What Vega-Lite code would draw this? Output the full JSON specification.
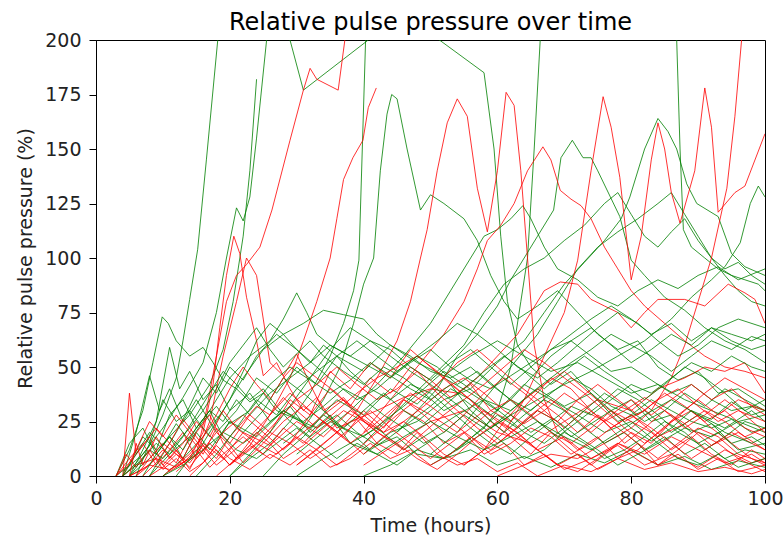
{
"$schema":"https://vega.github.io/schema/vega-lite/v6.json",
"autosize":"none",
"width":669,"height":436,
"padding":{"left":96,"top":40,"right":18,"bottom":66},
"background":"white",
"config":{"font":"DejaVu Sans","view":{"stroke":"black","strokeWidth":1}},
"title":{"text":"Relative pulse pressure over time","fontSize":24,"fontWeight":"normal","font":"DejaVu Sans","color":"black","offset":-4,"anchor":"middle"},
"datasets":{"d":[
{"s":"g1","c":"g","t":4,"v":0},{"s":"g1","c":"g","t":6,"v":6},{"s":"g1","c":"g","t":8,"v":14},{"s":"g1","c":"g","t":10,"v":28},{"s":"g1","c":"g","t":12,"v":45},{"s":"g1","c":"g","t":13,"v":62},{"s":"g1","c":"g","t":14,"v":81},{"s":"g1","c":"g","t":15.2,"v":104},{"s":"g1","c":"g","t":16.5,"v":145},{"s":"g1","c":"g","t":18.2,"v":200},{"s":"g1","c":"g","t":19,"v":225},
{"s":"g2","c":"g","t":3,"v":0},{"s":"g2","c":"g","t":5,"v":12},{"s":"g2","c":"g","t":7,"v":30},{"s":"g2","c":"g","t":8.5,"v":52},{"s":"g2","c":"g","t":9.9,"v":73},{"s":"g2","c":"g","t":10.8,"v":70},{"s":"g2","c":"g","t":12,"v":62},{"s":"g2","c":"g","t":14,"v":55},{"s":"g2","c":"g","t":16,"v":59},{"s":"g2","c":"g","t":17.5,"v":52},{"s":"g2","c":"g","t":19,"v":44},{"s":"g2","c":"g","t":21,"v":40},{"s":"g2","c":"g","t":23,"v":34},{"s":"g2","c":"g","t":25,"v":38},{"s":"g2","c":"g","t":27,"v":30},{"s":"g2","c":"g","t":30,"v":26},{"s":"g2","c":"g","t":33,"v":22},{"s":"g2","c":"g","t":36,"v":28},{"s":"g2","c":"g","t":39,"v":20},{"s":"g2","c":"g","t":42,"v":14},{"s":"g2","c":"g","t":45,"v":18},{"s":"g2","c":"g","t":48,"v":10},{"s":"g2","c":"g","t":52,"v":8},{"s":"g2","c":"g","t":56,"v":12},{"s":"g2","c":"g","t":60,"v":5},{"s":"g2","c":"g","t":64,"v":9},{"s":"g2","c":"g","t":68,"v":4},{"s":"g2","c":"g","t":72,"v":10},{"s":"g2","c":"g","t":76,"v":6},{"s":"g2","c":"g","t":80,"v":12},{"s":"g2","c":"g","t":84,"v":5},{"s":"g2","c":"g","t":88,"v":9},{"s":"g2","c":"g","t":92,"v":3},{"s":"g2","c":"g","t":96,"v":7},{"s":"g2","c":"g","t":100,"v":4},
{"s":"g3","c":"g","t":5,"v":0},{"s":"g3","c":"g","t":8,"v":8},{"s":"g3","c":"g","t":11,"v":18},{"s":"g3","c":"g","t":14,"v":28},{"s":"g3","c":"g","t":17,"v":42},{"s":"g3","c":"g","t":19,"v":58},{"s":"g3","c":"g","t":20.5,"v":80},{"s":"g3","c":"g","t":22,"v":110},{"s":"g3","c":"g","t":23,"v":140},{"s":"g3","c":"g","t":24,"v":182},
{"s":"g4","c":"g","t":4,"v":2},{"s":"g4","c":"g","t":7,"v":10},{"s":"g4","c":"g","t":10,"v":22},{"s":"g4","c":"g","t":13,"v":36},{"s":"g4","c":"g","t":16,"v":52},{"s":"g4","c":"g","t":18,"v":75},{"s":"g4","c":"g","t":19.5,"v":100},{"s":"g4","c":"g","t":21,"v":123},{"s":"g4","c":"g","t":22,"v":117},{"s":"g4","c":"g","t":23,"v":128},{"s":"g4","c":"g","t":24,"v":155},{"s":"g4","c":"g","t":25.5,"v":200},{"s":"g4","c":"g","t":27,"v":225},{"s":"g4","c":"g","t":29,"v":200},{"s":"g4","c":"g","t":31,"v":177},{"s":"g4","c":"g","t":40.7,"v":200},{"s":"g4","c":"g","t":42,"v":212},
{"s":"g5","c":"g","t":20,"v":0},{"s":"g5","c":"g","t":23,"v":8},{"s":"g5","c":"g","t":26,"v":15},{"s":"g5","c":"g","t":29,"v":25},{"s":"g5","c":"g","t":32,"v":38},{"s":"g5","c":"g","t":35,"v":55},{"s":"g5","c":"g","t":37,"v":70},{"s":"g5","c":"g","t":38.5,"v":85},{"s":"g5","c":"g","t":39.3,"v":99},{"s":"g5","c":"g","t":40.3,"v":200},{"s":"g5","c":"g","t":42,"v":230},{"s":"g5","c":"g","t":45,"v":212},{"s":"g5","c":"g","t":50,"v":203},{"s":"g5","c":"g","t":58,"v":185},{"s":"g5","c":"g","t":59.5,"v":150},{"s":"g5","c":"g","t":60.5,"v":110},{"s":"g5","c":"g","t":61.5,"v":80},{"s":"g5","c":"g","t":63,"v":60},{"s":"g5","c":"g","t":65,"v":50},{"s":"g5","c":"g","t":68,"v":42},{"s":"g5","c":"g","t":71,"v":48},{"s":"g5","c":"g","t":74,"v":38},{"s":"g5","c":"g","t":77,"v":30},{"s":"g5","c":"g","t":80,"v":35},{"s":"g5","c":"g","t":83,"v":25},{"s":"g5","c":"g","t":86,"v":28},{"s":"g5","c":"g","t":89,"v":20},{"s":"g5","c":"g","t":92,"v":24},{"s":"g5","c":"g","t":95,"v":15},{"s":"g5","c":"g","t":98,"v":18},{"s":"g5","c":"g","t":100,"v":14},
{"s":"g7","c":"g","t":40,"v":0},{"s":"g7","c":"g","t":44,"v":5},{"s":"g7","c":"g","t":48,"v":12},{"s":"g7","c":"g","t":52,"v":8},{"s":"g7","c":"g","t":55,"v":15},{"s":"g7","c":"g","t":58,"v":22},{"s":"g7","c":"g","t":60,"v":30},{"s":"g7","c":"g","t":62,"v":50},{"s":"g7","c":"g","t":63.5,"v":80},{"s":"g7","c":"g","t":64.5,"v":100},{"s":"g7","c":"g","t":65.5,"v":150},{"s":"g7","c":"g","t":66.4,"v":200},{"s":"g7","c":"g","t":70,"v":250},{"s":"g7","c":"g","t":80,"v":250},{"s":"g7","c":"g","t":86.8,"v":200},{"s":"g7","c":"g","t":87.3,"v":150},{"s":"g7","c":"g","t":87.8,"v":113},{"s":"g7","c":"g","t":89,"v":105},{"s":"g7","c":"g","t":91,"v":100},{"s":"g7","c":"g","t":93,"v":95},{"s":"g7","c":"g","t":95,"v":92},{"s":"g7","c":"g","t":97,"v":90},{"s":"g7","c":"g","t":99,"v":88},{"s":"g7","c":"g","t":100,"v":85},
{"s":"g8","c":"g","t":28,"v":15},{"s":"g8","c":"g","t":31,"v":22},{"s":"g8","c":"g","t":34,"v":35},{"s":"g8","c":"g","t":36.5,"v":50},{"s":"g8","c":"g","t":38.5,"v":70},{"s":"g8","c":"g","t":40,"v":88},{"s":"g8","c":"g","t":41.5,"v":100},{"s":"g8","c":"g","t":42.5,"v":140},{"s":"g8","c":"g","t":43.5,"v":166},{"s":"g8","c":"g","t":44.2,"v":175},{"s":"g8","c":"g","t":45,"v":173},{"s":"g8","c":"g","t":46.5,"v":150},{"s":"g8","c":"g","t":48.5,"v":122},{"s":"g8","c":"g","t":50,"v":129},{"s":"g8","c":"g","t":52,"v":125},{"s":"g8","c":"g","t":55,"v":118},{"s":"g8","c":"g","t":57,"v":108},{"s":"g8","c":"g","t":59,"v":92},{"s":"g8","c":"g","t":61,"v":80},{"s":"g8","c":"g","t":63,"v":72},{"s":"g8","c":"g","t":66,"v":78},{"s":"g8","c":"g","t":69,"v":85},{"s":"g8","c":"g","t":72,"v":75},{"s":"g8","c":"g","t":75,"v":65},{"s":"g8","c":"g","t":78,"v":58},{"s":"g8","c":"g","t":81,"v":62},{"s":"g8","c":"g","t":84,"v":50},{"s":"g8","c":"g","t":87,"v":44},{"s":"g8","c":"g","t":90,"v":48},{"s":"g8","c":"g","t":93,"v":38},{"s":"g8","c":"g","t":96,"v":40},{"s":"g8","c":"g","t":100,"v":32},
{"s":"g9","c":"g","t":45,"v":20},{"s":"g9","c":"g","t":48,"v":30},{"s":"g9","c":"g","t":51,"v":40},{"s":"g9","c":"g","t":54,"v":55},{"s":"g9","c":"g","t":57,"v":65},{"s":"g9","c":"g","t":60,"v":78},{"s":"g9","c":"g","t":62,"v":90},{"s":"g9","c":"g","t":64,"v":100},{"s":"g9","c":"g","t":66,"v":110},{"s":"g9","c":"g","t":68.4,"v":122},{"s":"g9","c":"g","t":69.5,"v":146},{"s":"g9","c":"g","t":71.2,"v":154},{"s":"g9","c":"g","t":72.8,"v":146},{"s":"g9","c":"g","t":74,"v":146},{"s":"g9","c":"g","t":75,"v":140},{"s":"g9","c":"g","t":78.3,"v":119},{"s":"g9","c":"g","t":80,"v":99},{"s":"g9","c":"g","t":82,"v":92},{"s":"g9","c":"g","t":85,"v":82},{"s":"g9","c":"g","t":88,"v":76},{"s":"g9","c":"g","t":91,"v":68},{"s":"g9","c":"g","t":94,"v":62},{"s":"g9","c":"g","t":97,"v":58},{"s":"g9","c":"g","t":100,"v":52},
{"s":"g10","c":"g","t":40,"v":10},{"s":"g10","c":"g","t":44,"v":20},{"s":"g10","c":"g","t":48,"v":25},{"s":"g10","c":"g","t":52,"v":35},{"s":"g10","c":"g","t":56,"v":40},{"s":"g10","c":"g","t":60,"v":52},{"s":"g10","c":"g","t":64,"v":62},{"s":"g10","c":"g","t":67,"v":75},{"s":"g10","c":"g","t":70,"v":88},{"s":"g10","c":"g","t":73,"v":98},{"s":"g10","c":"g","t":76,"v":108},{"s":"g10","c":"g","t":78.5,"v":118},{"s":"g10","c":"g","t":79.8,"v":128},{"s":"g10","c":"g","t":82,"v":150},{"s":"g10","c":"g","t":84,"v":164},{"s":"g10","c":"g","t":85.5,"v":158},{"s":"g10","c":"g","t":86.8,"v":150},{"s":"g10","c":"g","t":88.3,"v":134},{"s":"g10","c":"g","t":89.8,"v":125},{"s":"g10","c":"g","t":93,"v":119},{"s":"g10","c":"g","t":95,"v":102},{"s":"g10","c":"g","t":97,"v":96},{"s":"g10","c":"g","t":100,"v":92},
{"s":"g11","c":"g","t":50,"v":5},{"s":"g11","c":"g","t":54,"v":12},{"s":"g11","c":"g","t":58,"v":20},{"s":"g11","c":"g","t":62,"v":28},{"s":"g11","c":"g","t":66,"v":35},{"s":"g11","c":"g","t":70,"v":42},{"s":"g11","c":"g","t":74,"v":48},{"s":"g11","c":"g","t":78,"v":55},{"s":"g11","c":"g","t":82,"v":62},{"s":"g11","c":"g","t":86,"v":72},{"s":"g11","c":"g","t":89,"v":82},{"s":"g11","c":"g","t":92,"v":90},{"s":"g11","c":"g","t":94,"v":96},{"s":"g11","c":"g","t":96.3,"v":107},{"s":"g11","c":"g","t":97.8,"v":125},{"s":"g11","c":"g","t":99,"v":133},{"s":"g11","c":"g","t":100,"v":128},
{"s":"g12","c":"g","t":30,"v":10},{"s":"g12","c":"g","t":34,"v":20},{"s":"g12","c":"g","t":38,"v":30},{"s":"g12","c":"g","t":42,"v":42},{"s":"g12","c":"g","t":46,"v":55},{"s":"g12","c":"g","t":50,"v":70},{"s":"g12","c":"g","t":53,"v":85},{"s":"g12","c":"g","t":56,"v":100},{"s":"g12","c":"g","t":58,"v":110},{"s":"g12","c":"g","t":60,"v":113},{"s":"g12","c":"g","t":62,"v":118},{"s":"g12","c":"g","t":63.8,"v":124},{"s":"g12","c":"g","t":65,"v":118},{"s":"g12","c":"g","t":67,"v":105},{"s":"g12","c":"g","t":69,"v":95},{"s":"g12","c":"g","t":72,"v":90},{"s":"g12","c":"g","t":75,"v":82},{"s":"g12","c":"g","t":78,"v":78},{"s":"g12","c":"g","t":81,"v":85},{"s":"g12","c":"g","t":84,"v":90},{"s":"g12","c":"g","t":87,"v":86},{"s":"g12","c":"g","t":90,"v":92},{"s":"g12","c":"g","t":93,"v":96},{"s":"g12","c":"g","t":96,"v":90},{"s":"g12","c":"g","t":100,"v":95},
{"s":"g13","c":"g","t":8,"v":0},{"s":"g13","c":"g","t":11,"v":10},{"s":"g13","c":"g","t":14,"v":18},{"s":"g13","c":"g","t":17,"v":30},{"s":"g13","c":"g","t":20,"v":45},{"s":"g13","c":"g","t":23,"v":55},{"s":"g13","c":"g","t":26,"v":62},{"s":"g13","c":"g","t":28,"v":72},{"s":"g13","c":"g","t":30,"v":84},{"s":"g13","c":"g","t":31.5,"v":75},{"s":"g13","c":"g","t":33,"v":65},{"s":"g13","c":"g","t":35,"v":60},{"s":"g13","c":"g","t":38,"v":55},{"s":"g13","c":"g","t":41,"v":50},{"s":"g13","c":"g","t":44,"v":45},{"s":"g13","c":"g","t":47,"v":52},{"s":"g13","c":"g","t":50,"v":58},{"s":"g13","c":"g","t":53,"v":50},{"s":"g13","c":"g","t":56,"v":44},{"s":"g13","c":"g","t":59,"v":40},{"s":"g13","c":"g","t":62,"v":46},{"s":"g13","c":"g","t":65,"v":52},{"s":"g13","c":"g","t":68,"v":58},{"s":"g13","c":"g","t":71,"v":62},{"s":"g13","c":"g","t":74,"v":55},{"s":"g13","c":"g","t":77,"v":48},{"s":"g13","c":"g","t":80,"v":50},{"s":"g13","c":"g","t":83,"v":44},{"s":"g13","c":"g","t":86,"v":38},{"s":"g13","c":"g","t":89,"v":42},{"s":"g13","c":"g","t":92,"v":35},{"s":"g13","c":"g","t":95,"v":30},{"s":"g13","c":"g","t":98,"v":32},{"s":"g13","c":"g","t":100,"v":30},
{"s":"g14","c":"g","t":10,"v":0},{"s":"g14","c":"g","t":13,"v":8},{"s":"g14","c":"g","t":16,"v":18},{"s":"g14","c":"g","t":19,"v":30},{"s":"g14","c":"g","t":22,"v":45},{"s":"g14","c":"g","t":25,"v":58},{"s":"g14","c":"g","t":28,"v":65},{"s":"g14","c":"g","t":31,"v":70},{"s":"g14","c":"g","t":34,"v":76},{"s":"g14","c":"g","t":37,"v":74},{"s":"g14","c":"g","t":40,"v":72},{"s":"g14","c":"g","t":42,"v":65},{"s":"g14","c":"g","t":44,"v":60},{"s":"g14","c":"g","t":47,"v":55},{"s":"g14","c":"g","t":50,"v":48},{"s":"g14","c":"g","t":53,"v":45},{"s":"g14","c":"g","t":56,"v":50},{"s":"g14","c":"g","t":59,"v":42},{"s":"g14","c":"g","t":62,"v":35},{"s":"g14","c":"g","t":65,"v":30},{"s":"g14","c":"g","t":68,"v":38},{"s":"g14","c":"g","t":71,"v":45},{"s":"g14","c":"g","t":74,"v":40},{"s":"g14","c":"g","t":77,"v":32},{"s":"g14","c":"g","t":80,"v":28},{"s":"g14","c":"g","t":83,"v":35},{"s":"g14","c":"g","t":86,"v":30},{"s":"g14","c":"g","t":89,"v":25},{"s":"g14","c":"g","t":92,"v":22},{"s":"g14","c":"g","t":95,"v":26},{"s":"g14","c":"g","t":98,"v":20},{"s":"g14","c":"g","t":100,"v":22},
{"s":"g15","c":"g","t":40,"v":15},{"s":"g15","c":"g","t":45,"v":30},{"s":"g15","c":"g","t":50,"v":45},{"s":"g15","c":"g","t":55,"v":60},{"s":"g15","c":"g","t":58,"v":75},{"s":"g15","c":"g","t":61,"v":88},{"s":"g15","c":"g","t":64,"v":95},{"s":"g15","c":"g","t":67,"v":100},{"s":"g15","c":"g","t":70,"v":108},{"s":"g15","c":"g","t":73,"v":115},{"s":"g15","c":"g","t":76,"v":125},{"s":"g15","c":"g","t":78,"v":130},{"s":"g15","c":"g","t":80,"v":120},{"s":"g15","c":"g","t":82,"v":110},{"s":"g15","c":"g","t":84,"v":105},{"s":"g15","c":"g","t":86,"v":112},{"s":"g15","c":"g","t":88,"v":118},{"s":"g15","c":"g","t":90,"v":108},{"s":"g15","c":"g","t":92,"v":100},{"s":"g15","c":"g","t":94,"v":95},{"s":"g15","c":"g","t":96,"v":98},{"s":"g15","c":"g","t":98,"v":92},{"s":"g15","c":"g","t":100,"v":88},
{"s":"g16","c":"g","t":50,"v":10},{"s":"g16","c":"g","t":54,"v":20},{"s":"g16","c":"g","t":58,"v":35},{"s":"g16","c":"g","t":62,"v":50},{"s":"g16","c":"g","t":66,"v":65},{"s":"g16","c":"g","t":69,"v":80},{"s":"g16","c":"g","t":72,"v":95},{"s":"g16","c":"g","t":75,"v":105},{"s":"g16","c":"g","t":78,"v":112},{"s":"g16","c":"g","t":81,"v":118},{"s":"g16","c":"g","t":84,"v":125},{"s":"g16","c":"g","t":86,"v":130},{"s":"g16","c":"g","t":88,"v":120},{"s":"g16","c":"g","t":90,"v":110},{"s":"g16","c":"g","t":92,"v":100},{"s":"g16","c":"g","t":94,"v":92},{"s":"g16","c":"g","t":96,"v":85},{"s":"g16","c":"g","t":98,"v":80},{"s":"g16","c":"g","t":100,"v":78},
{"s":"r1","c":"r","t":4,"v":0},{"s":"r1","c":"r","t":6,"v":5},{"s":"r1","c":"r","t":9,"v":8},{"s":"r1","c":"r","t":12,"v":4},{"s":"r1","c":"r","t":15,"v":10},{"s":"r1","c":"r","t":16.5,"v":30},{"s":"r1","c":"r","t":18,"v":55},{"s":"r1","c":"r","t":19.5,"v":80},{"s":"r1","c":"r","t":21,"v":92},{"s":"r1","c":"r","t":22.5,"v":97},{"s":"r1","c":"r","t":24.5,"v":105},{"s":"r1","c":"r","t":26.3,"v":122},{"s":"r1","c":"r","t":29,"v":154},{"s":"r1","c":"r","t":31,"v":177},{"s":"r1","c":"r","t":32,"v":187},{"s":"r1","c":"r","t":33,"v":182},{"s":"r1","c":"r","t":36.2,"v":177},{"s":"r1","c":"r","t":37.2,"v":200},{"s":"r1","c":"r","t":38,"v":220},
{"s":"r2","c":"r","t":20,"v":5},{"s":"r2","c":"r","t":23,"v":14},{"s":"r2","c":"r","t":26,"v":28},{"s":"r2","c":"r","t":29,"v":45},{"s":"r2","c":"r","t":31,"v":62},{"s":"r2","c":"r","t":33,"v":80},{"s":"r2","c":"r","t":35,"v":100},{"s":"r2","c":"r","t":36,"v":118},{"s":"r2","c":"r","t":37,"v":136},{"s":"r2","c":"r","t":38.4,"v":146},{"s":"r2","c":"r","t":39.9,"v":154},{"s":"r2","c":"r","t":40.7,"v":169},{"s":"r2","c":"r","t":41.9,"v":178},
{"s":"r3","c":"r","t":5,"v":0},{"s":"r3","c":"r","t":8,"v":5},{"s":"r3","c":"r","t":11,"v":3},{"s":"r3","c":"r","t":14,"v":8},{"s":"r3","c":"r","t":16,"v":20},{"s":"r3","c":"r","t":17.5,"v":42},{"s":"r3","c":"r","t":18.5,"v":68},{"s":"r3","c":"r","t":19.5,"v":92},{"s":"r3","c":"r","t":20.6,"v":110},{"s":"r3","c":"r","t":21.5,"v":102},{"s":"r3","c":"r","t":22.5,"v":82},{"s":"r3","c":"r","t":24,"v":62},{"s":"r3","c":"r","t":25,"v":46},{"s":"r3","c":"r","t":27,"v":52},{"s":"r3","c":"r","t":29,"v":40},{"s":"r3","c":"r","t":31,"v":30},{"s":"r3","c":"r","t":33,"v":36},{"s":"r3","c":"r","t":36,"v":22},{"s":"r3","c":"r","t":39,"v":26},{"s":"r3","c":"r","t":42,"v":15},{"s":"r3","c":"r","t":45,"v":10},{"s":"r3","c":"r","t":48,"v":20},{"s":"r3","c":"r","t":51,"v":10},{"s":"r3","c":"r","t":54,"v":5},{"s":"r3","c":"r","t":57,"v":8},{"s":"r3","c":"r","t":60,"v":2},{"s":"r3","c":"r","t":63,"v":6},{"s":"r3","c":"r","t":66,"v":0},{"s":"r3","c":"r","t":70,"v":5},{"s":"r3","c":"r","t":74,"v":2},{"s":"r3","c":"r","t":78,"v":8},{"s":"r3","c":"r","t":82,"v":3},{"s":"r3","c":"r","t":86,"v":6},{"s":"r3","c":"r","t":90,"v":2},{"s":"r3","c":"r","t":94,"v":4},{"s":"r3","c":"r","t":98,"v":1},{"s":"r3","c":"r","t":100,"v":3},
{"s":"r4","c":"r","t":12,"v":2},{"s":"r4","c":"r","t":15,"v":10},{"s":"r4","c":"r","t":17,"v":25},{"s":"r4","c":"r","t":19,"v":55},{"s":"r4","c":"r","t":21,"v":80},{"s":"r4","c":"r","t":22.5,"v":100},{"s":"r4","c":"r","t":24,"v":92},{"s":"r4","c":"r","t":25,"v":72},{"s":"r4","c":"r","t":26,"v":52},{"s":"r4","c":"r","t":28,"v":46},{"s":"r4","c":"r","t":30,"v":56},{"s":"r4","c":"r","t":32,"v":42},{"s":"r4","c":"r","t":34,"v":30},{"s":"r4","c":"r","t":37,"v":36},{"s":"r4","c":"r","t":40,"v":25},{"s":"r4","c":"r","t":43,"v":20},{"s":"r4","c":"r","t":46,"v":30},{"s":"r4","c":"r","t":49,"v":25},{"s":"r4","c":"r","t":52,"v":15},{"s":"r4","c":"r","t":55,"v":20},{"s":"r4","c":"r","t":58,"v":10},{"s":"r4","c":"r","t":61,"v":15},{"s":"r4","c":"r","t":64,"v":5},{"s":"r4","c":"r","t":67,"v":10},{"s":"r4","c":"r","t":70,"v":3},{"s":"r4","c":"r","t":74,"v":8},{"s":"r4","c":"r","t":78,"v":15},{"s":"r4","c":"r","t":82,"v":10},{"s":"r4","c":"r","t":86,"v":18},{"s":"r4","c":"r","t":90,"v":12},{"s":"r4","c":"r","t":94,"v":6},{"s":"r4","c":"r","t":98,"v":10},{"s":"r4","c":"r","t":100,"v":6},
{"s":"r5","c":"r","t":30,"v":5},{"s":"r5","c":"r","t":33,"v":12},{"s":"r5","c":"r","t":36,"v":20},{"s":"r5","c":"r","t":39,"v":30},{"s":"r5","c":"r","t":42,"v":45},{"s":"r5","c":"r","t":45,"v":62},{"s":"r5","c":"r","t":47,"v":80},{"s":"r5","c":"r","t":48.5,"v":100},{"s":"r5","c":"r","t":49.5,"v":113},{"s":"r5","c":"r","t":51,"v":140},{"s":"r5","c":"r","t":52.5,"v":162},{"s":"r5","c":"r","t":54,"v":173},{"s":"r5","c":"r","t":55.5,"v":165},{"s":"r5","c":"r","t":57,"v":132},{"s":"r5","c":"r","t":58.5,"v":112},{"s":"r5","c":"r","t":60,"v":140},{"s":"r5","c":"r","t":61.3,"v":176},{"s":"r5","c":"r","t":62.5,"v":170},{"s":"r5","c":"r","t":63.5,"v":140},{"s":"r5","c":"r","t":64.5,"v":100},{"s":"r5","c":"r","t":65.5,"v":60},{"s":"r5","c":"r","t":67,"v":35},{"s":"r5","c":"r","t":69,"v":20},{"s":"r5","c":"r","t":72,"v":12},{"s":"r5","c":"r","t":75,"v":18},{"s":"r5","c":"r","t":78,"v":8},{"s":"r5","c":"r","t":81,"v":15},{"s":"r5","c":"r","t":84,"v":5},{"s":"r5","c":"r","t":87,"v":10},{"s":"r5","c":"r","t":90,"v":3},{"s":"r5","c":"r","t":93,"v":8},{"s":"r5","c":"r","t":96,"v":2},{"s":"r5","c":"r","t":100,"v":5},
{"s":"r6","c":"r","t":55,"v":5},{"s":"r6","c":"r","t":58,"v":12},{"s":"r6","c":"r","t":61,"v":20},{"s":"r6","c":"r","t":64,"v":35},{"s":"r6","c":"r","t":67,"v":55},{"s":"r6","c":"r","t":70,"v":75},{"s":"r6","c":"r","t":72,"v":99},{"s":"r6","c":"r","t":74,"v":140},{"s":"r6","c":"r","t":75.8,"v":174},{"s":"r6","c":"r","t":77,"v":160},{"s":"r6","c":"r","t":78.3,"v":137},{"s":"r6","c":"r","t":80,"v":90},{"s":"r6","c":"r","t":81.5,"v":110},{"s":"r6","c":"r","t":83,"v":145},{"s":"r6","c":"r","t":84,"v":162},{"s":"r6","c":"r","t":85,"v":150},{"s":"r6","c":"r","t":86,"v":130},{"s":"r6","c":"r","t":87.3,"v":116},{"s":"r6","c":"r","t":89.5,"v":140},{"s":"r6","c":"r","t":91,"v":178},{"s":"r6","c":"r","t":92,"v":160},{"s":"r6","c":"r","t":93,"v":121},{"s":"r6","c":"r","t":95.5,"v":130},{"s":"r6","c":"r","t":97,"v":133},{"s":"r6","c":"r","t":100,"v":157},
{"s":"r7","c":"r","t":60,"v":0},{"s":"r7","c":"r","t":64,"v":5},{"s":"r7","c":"r","t":68,"v":10},{"s":"r7","c":"r","t":72,"v":8},{"s":"r7","c":"r","t":76,"v":15},{"s":"r7","c":"r","t":80,"v":22},{"s":"r7","c":"r","t":83,"v":30},{"s":"r7","c":"r","t":86,"v":45},{"s":"r7","c":"r","t":88,"v":60},{"s":"r7","c":"r","t":90,"v":80},{"s":"r7","c":"r","t":92,"v":100},{"s":"r7","c":"r","t":94.3,"v":132},{"s":"r7","c":"r","t":95.5,"v":165},{"s":"r7","c":"r","t":96.5,"v":200},{"s":"r7","c":"r","t":97.5,"v":230},
{"s":"r8","c":"r","t":30,"v":5},{"s":"r8","c":"r","t":34,"v":15},{"s":"r8","c":"r","t":38,"v":25},{"s":"r8","c":"r","t":42,"v":30},{"s":"r8","c":"r","t":46,"v":36},{"s":"r8","c":"r","t":50,"v":40},{"s":"r8","c":"r","t":54,"v":38},{"s":"r8","c":"r","t":57,"v":45},{"s":"r8","c":"r","t":60,"v":55},{"s":"r8","c":"r","t":63,"v":65},{"s":"r8","c":"r","t":65,"v":75},{"s":"r8","c":"r","t":67,"v":85},{"s":"r8","c":"r","t":69.4,"v":89},{"s":"r8","c":"r","t":72,"v":88},{"s":"r8","c":"r","t":74,"v":81},{"s":"r8","c":"r","t":76,"v":78},{"s":"r8","c":"r","t":78,"v":75},{"s":"r8","c":"r","t":80,"v":68},{"s":"r8","c":"r","t":82,"v":75},{"s":"r8","c":"r","t":84,"v":81},{"s":"r8","c":"r","t":88,"v":81},{"s":"r8","c":"r","t":91,"v":78},{"s":"r8","c":"r","t":94.5,"v":88},{"s":"r8","c":"r","t":97,"v":84},{"s":"r8","c":"r","t":98.5,"v":81},{"s":"r8","c":"r","t":100,"v":70},
{"s":"r9","c":"r","t":40,"v":20},{"s":"r9","c":"r","t":44,"v":35},{"s":"r9","c":"r","t":48,"v":50},{"s":"r9","c":"r","t":52,"v":65},{"s":"r9","c":"r","t":55,"v":80},{"s":"r9","c":"r","t":57,"v":95},{"s":"r9","c":"r","t":58.5,"v":108},{"s":"r9","c":"r","t":60.5,"v":115},{"s":"r9","c":"r","t":62.5,"v":125},{"s":"r9","c":"r","t":64.5,"v":140},{"s":"r9","c":"r","t":66.8,"v":151},{"s":"r9","c":"r","t":68,"v":145},{"s":"r9","c":"r","t":69.4,"v":131},{"s":"r9","c":"r","t":71,"v":127},{"s":"r9","c":"r","t":72.5,"v":124},{"s":"r9","c":"r","t":74,"v":118},{"s":"r9","c":"r","t":76,"v":105},{"s":"r9","c":"r","t":78,"v":95},{"s":"r9","c":"r","t":80,"v":85},{"s":"r9","c":"r","t":82,"v":78},{"s":"r9","c":"r","t":85,"v":70},{"s":"r9","c":"r","t":88,"v":62},{"s":"r9","c":"r","t":91,"v":55},{"s":"r9","c":"r","t":94,"v":50},{"s":"r9","c":"r","t":97,"v":48},{"s":"r9","c":"r","t":100,"v":45},
{"s":"r10","c":"r","t":40,"v":5},{"s":"r10","c":"r","t":45,"v":15},{"s":"r10","c":"r","t":50,"v":25},{"s":"r10","c":"r","t":55,"v":30},{"s":"r10","c":"r","t":60,"v":20},{"s":"r10","c":"r","t":65,"v":15},{"s":"r10","c":"r","t":70,"v":25},{"s":"r10","c":"r","t":75,"v":35},{"s":"r10","c":"r","t":80,"v":30},{"s":"r10","c":"r","t":84,"v":40},{"s":"r10","c":"r","t":88,"v":45},{"s":"r10","c":"r","t":91,"v":50},{"s":"r10","c":"r","t":94,"v":48},{"s":"r10","c":"r","t":97,"v":52},{"s":"r10","c":"r","t":100,"v":38},
{"s":"b1","c":"g","t":3,"v":0},{"s":"b1","c":"g","t":5,"v":15},{"s":"b1","c":"g","t":7,"v":22},{"s":"b1","c":"g","t":9,"v":10},{"s":"b1","c":"g","t":11,"v":18},{"s":"b1","c":"g","t":13,"v":8},{"s":"b1","c":"g","t":15,"v":20},{"s":"b1","c":"g","t":17,"v":12},{"s":"b1","c":"g","t":20,"v":25},{"s":"b1","c":"g","t":24,"v":18},{"s":"b1","c":"g","t":28,"v":30},{"s":"b1","c":"g","t":32,"v":22},{"s":"b1","c":"g","t":36,"v":35},{"s":"b1","c":"g","t":40,"v":28},{"s":"b1","c":"g","t":44,"v":40},{"s":"b1","c":"g","t":48,"v":33},{"s":"b1","c":"g","t":52,"v":45},{"s":"b1","c":"g","t":56,"v":38},{"s":"b1","c":"g","t":60,"v":30},{"s":"b1","c":"g","t":64,"v":42},{"s":"b1","c":"g","t":68,"v":35},{"s":"b1","c":"g","t":72,"v":28},{"s":"b1","c":"g","t":76,"v":20},{"s":"b1","c":"g","t":80,"v":25},{"s":"b1","c":"g","t":84,"v":15},{"s":"b1","c":"g","t":88,"v":22},{"s":"b1","c":"g","t":92,"v":18},{"s":"b1","c":"g","t":96,"v":25},{"s":"b1","c":"g","t":100,"v":20},
{"s":"b2","c":"r","t":4,"v":0},{"s":"b2","c":"r","t":5,"v":38},{"s":"b2","c":"r","t":6,"v":10},{"s":"b2","c":"r","t":8,"v":18},{"s":"b2","c":"r","t":10,"v":5},{"s":"b2","c":"r","t":12,"v":12},{"s":"b2","c":"r","t":14,"v":3},{"s":"b2","c":"r","t":16,"v":15},{"s":"b2","c":"r","t":19,"v":8},{"s":"b2","c":"r","t":22,"v":20},{"s":"b2","c":"r","t":26,"v":14},{"s":"b2","c":"r","t":30,"v":25},{"s":"b2","c":"r","t":34,"v":18},{"s":"b2","c":"r","t":38,"v":30},{"s":"b2","c":"r","t":42,"v":22},{"s":"b2","c":"r","t":46,"v":35},{"s":"b2","c":"r","t":50,"v":28},{"s":"b2","c":"r","t":54,"v":20},{"s":"b2","c":"r","t":58,"v":30},{"s":"b2","c":"r","t":62,"v":22},{"s":"b2","c":"r","t":66,"v":12},{"s":"b2","c":"r","t":70,"v":18},{"s":"b2","c":"r","t":74,"v":8},{"s":"b2","c":"r","t":78,"v":14},{"s":"b2","c":"r","t":82,"v":5},{"s":"b2","c":"r","t":86,"v":10},{"s":"b2","c":"r","t":90,"v":4},{"s":"b2","c":"r","t":94,"v":12},{"s":"b2","c":"r","t":98,"v":6},{"s":"b2","c":"r","t":100,"v":8},
{"s":"b3","c":"g","t":4,"v":0},{"s":"b3","c":"g","t":6,"v":20},{"s":"b3","c":"g","t":8,"v":46},{"s":"b3","c":"g","t":9.5,"v":30},{"s":"b3","c":"g","t":11,"v":40},{"s":"b3","c":"g","t":13,"v":25},{"s":"b3","c":"g","t":15,"v":35},{"s":"b3","c":"g","t":18,"v":20},{"s":"b3","c":"g","t":21,"v":30},{"s":"b3","c":"g","t":24,"v":45},{"s":"b3","c":"g","t":27,"v":38},{"s":"b3","c":"g","t":30,"v":50},{"s":"b3","c":"g","t":33,"v":42},{"s":"b3","c":"g","t":36,"v":55},{"s":"b3","c":"g","t":40,"v":48},{"s":"b3","c":"g","t":44,"v":60},{"s":"b3","c":"g","t":48,"v":52},{"s":"b3","c":"g","t":52,"v":46},{"s":"b3","c":"g","t":56,"v":55},{"s":"b3","c":"g","t":60,"v":62},{"s":"b3","c":"g","t":64,"v":55},{"s":"b3","c":"g","t":68,"v":48},{"s":"b3","c":"g","t":72,"v":52},{"s":"b3","c":"g","t":76,"v":45},{"s":"b3","c":"g","t":80,"v":38},{"s":"b3","c":"g","t":84,"v":42},{"s":"b3","c":"g","t":88,"v":35},{"s":"b3","c":"g","t":92,"v":30},{"s":"b3","c":"g","t":96,"v":25},{"s":"b3","c":"g","t":100,"v":28},
{"s":"b4","c":"r","t":3,"v":0},{"s":"b4","c":"r","t":5,"v":8},{"s":"b4","c":"r","t":7,"v":15},{"s":"b4","c":"r","t":9,"v":5},{"s":"b4","c":"r","t":11,"v":12},{"s":"b4","c":"r","t":13,"v":20},{"s":"b4","c":"r","t":15,"v":8},{"s":"b4","c":"r","t":17,"v":15},{"s":"b4","c":"r","t":20,"v":5},{"s":"b4","c":"r","t":23,"v":12},{"s":"b4","c":"r","t":26,"v":20},{"s":"b4","c":"r","t":29,"v":15},{"s":"b4","c":"r","t":32,"v":28},{"s":"b4","c":"r","t":35,"v":40},{"s":"b4","c":"r","t":38,"v":32},{"s":"b4","c":"r","t":41,"v":45},{"s":"b4","c":"r","t":44,"v":38},{"s":"b4","c":"r","t":47,"v":50},{"s":"b4","c":"r","t":50,"v":44},{"s":"b4","c":"r","t":53,"v":36},{"s":"b4","c":"r","t":56,"v":42},{"s":"b4","c":"r","t":59,"v":30},{"s":"b4","c":"r","t":62,"v":25},{"s":"b4","c":"r","t":65,"v":35},{"s":"b4","c":"r","t":68,"v":45},{"s":"b4","c":"r","t":71,"v":40},{"s":"b4","c":"r","t":74,"v":30},{"s":"b4","c":"r","t":77,"v":22},{"s":"b4","c":"r","t":80,"v":28},{"s":"b4","c":"r","t":84,"v":18},{"s":"b4","c":"r","t":88,"v":24},{"s":"b4","c":"r","t":92,"v":14},{"s":"b4","c":"r","t":96,"v":20},{"s":"b4","c":"r","t":100,"v":12},
{"s":"b5","c":"g","t":5,"v":0},{"s":"b5","c":"g","t":7,"v":12},{"s":"b5","c":"g","t":9,"v":25},{"s":"b5","c":"g","t":11,"v":59},{"s":"b5","c":"g","t":12.5,"v":40},{"s":"b5","c":"g","t":14,"v":48},{"s":"b5","c":"g","t":16,"v":35},{"s":"b5","c":"g","t":18,"v":42},{"s":"b5","c":"g","t":20,"v":30},{"s":"b5","c":"g","t":23,"v":38},{"s":"b5","c":"g","t":26,"v":25},{"s":"b5","c":"g","t":29,"v":32},{"s":"b5","c":"g","t":32,"v":20},{"s":"b5","c":"g","t":35,"v":28},{"s":"b5","c":"g","t":38,"v":15},{"s":"b5","c":"g","t":42,"v":22},{"s":"b5","c":"g","t":46,"v":12},{"s":"b5","c":"g","t":50,"v":20},{"s":"b5","c":"g","t":54,"v":28},{"s":"b5","c":"g","t":58,"v":35},{"s":"b5","c":"g","t":62,"v":30},{"s":"b5","c":"g","t":66,"v":40},{"s":"b5","c":"g","t":70,"v":32},{"s":"b5","c":"g","t":74,"v":38},{"s":"b5","c":"g","t":78,"v":25},{"s":"b5","c":"g","t":82,"v":30},{"s":"b5","c":"g","t":86,"v":20},{"s":"b5","c":"g","t":90,"v":28},{"s":"b5","c":"g","t":94,"v":22},{"s":"b5","c":"g","t":98,"v":30},{"s":"b5","c":"g","t":100,"v":25},
{"s":"b6","c":"r","t":6,"v":0},{"s":"b6","c":"r","t":8,"v":5},{"s":"b6","c":"r","t":10,"v":12},{"s":"b6","c":"r","t":12,"v":6},{"s":"b6","c":"r","t":14,"v":18},{"s":"b6","c":"r","t":16,"v":10},{"s":"b6","c":"r","t":18,"v":22},{"s":"b6","c":"r","t":20,"v":15},{"s":"b6","c":"r","t":23,"v":28},{"s":"b6","c":"r","t":26,"v":20},{"s":"b6","c":"r","t":29,"v":35},{"s":"b6","c":"r","t":32,"v":28},{"s":"b6","c":"r","t":35,"v":48},{"s":"b6","c":"r","t":38,"v":40},{"s":"b6","c":"r","t":41,"v":52},{"s":"b6","c":"r","t":44,"v":45},{"s":"b6","c":"r","t":47,"v":58},{"s":"b6","c":"r","t":50,"v":50},{"s":"b6","c":"r","t":53,"v":42},{"s":"b6","c":"r","t":56,"v":35},{"s":"b6","c":"r","t":59,"v":25},{"s":"b6","c":"r","t":62,"v":18},{"s":"b6","c":"r","t":65,"v":10},{"s":"b6","c":"r","t":68,"v":20},{"s":"b6","c":"r","t":71,"v":12},{"s":"b6","c":"r","t":74,"v":5},{"s":"b6","c":"r","t":77,"v":12},{"s":"b6","c":"r","t":80,"v":20},{"s":"b6","c":"r","t":83,"v":15},{"s":"b6","c":"r","t":86,"v":25},{"s":"b6","c":"r","t":89,"v":30},{"s":"b6","c":"r","t":92,"v":22},{"s":"b6","c":"r","t":95,"v":15},{"s":"b6","c":"r","t":98,"v":8},{"s":"b6","c":"r","t":100,"v":5},
{"s":"b7","c":"g","t":4,"v":0},{"s":"b7","c":"g","t":6,"v":5},{"s":"b7","c":"g","t":8,"v":12},{"s":"b7","c":"g","t":10,"v":8},{"s":"b7","c":"g","t":12,"v":15},{"s":"b7","c":"g","t":14,"v":22},{"s":"b7","c":"g","t":16,"v":30},{"s":"b7","c":"g","t":18,"v":40},{"s":"b7","c":"g","t":20,"v":52},{"s":"b7","c":"g","t":22,"v":60},{"s":"b7","c":"g","t":24,"v":68},{"s":"b7","c":"g","t":26,"v":58},{"s":"b7","c":"g","t":28,"v":50},{"s":"b7","c":"g","t":30,"v":56},{"s":"b7","c":"g","t":32,"v":62},{"s":"b7","c":"g","t":34,"v":55},{"s":"b7","c":"g","t":37,"v":48},{"s":"b7","c":"g","t":40,"v":42},{"s":"b7","c":"g","t":43,"v":50},{"s":"b7","c":"g","t":46,"v":45},{"s":"b7","c":"g","t":49,"v":38},{"s":"b7","c":"g","t":52,"v":30},{"s":"b7","c":"g","t":55,"v":35},{"s":"b7","c":"g","t":58,"v":28},{"s":"b7","c":"g","t":61,"v":20},{"s":"b7","c":"g","t":64,"v":28},{"s":"b7","c":"g","t":67,"v":35},{"s":"b7","c":"g","t":70,"v":30},{"s":"b7","c":"g","t":73,"v":22},{"s":"b7","c":"g","t":76,"v":15},{"s":"b7","c":"g","t":79,"v":20},{"s":"b7","c":"g","t":82,"v":12},{"s":"b7","c":"g","t":85,"v":18},{"s":"b7","c":"g","t":88,"v":10},{"s":"b7","c":"g","t":91,"v":15},{"s":"b7","c":"g","t":94,"v":8},{"s":"b7","c":"g","t":97,"v":12},{"s":"b7","c":"g","t":100,"v":10},
{"s":"b8","c":"r","t":5,"v":0},{"s":"b8","c":"r","t":7,"v":3},{"s":"b8","c":"r","t":9,"v":8},{"s":"b8","c":"r","t":11,"v":2},{"s":"b8","c":"r","t":13,"v":6},{"s":"b8","c":"r","t":15,"v":12},{"s":"b8","c":"r","t":17,"v":4},{"s":"b8","c":"r","t":19,"v":10},{"s":"b8","c":"r","t":22,"v":18},{"s":"b8","c":"r","t":25,"v":10},{"s":"b8","c":"r","t":28,"v":22},{"s":"b8","c":"r","t":31,"v":15},{"s":"b8","c":"r","t":34,"v":25},{"s":"b8","c":"r","t":37,"v":18},{"s":"b8","c":"r","t":40,"v":30},{"s":"b8","c":"r","t":43,"v":22},{"s":"b8","c":"r","t":46,"v":35},{"s":"b8","c":"r","t":49,"v":28},{"s":"b8","c":"r","t":52,"v":20},{"s":"b8","c":"r","t":55,"v":28},{"s":"b8","c":"r","t":58,"v":38},{"s":"b8","c":"r","t":61,"v":45},{"s":"b8","c":"r","t":64,"v":38},{"s":"b8","c":"r","t":67,"v":30},{"s":"b8","c":"r","t":70,"v":22},{"s":"b8","c":"r","t":73,"v":30},{"s":"b8","c":"r","t":76,"v":25},{"s":"b8","c":"r","t":79,"v":15},{"s":"b8","c":"r","t":82,"v":22},{"s":"b8","c":"r","t":85,"v":30},{"s":"b8","c":"r","t":88,"v":22},{"s":"b8","c":"r","t":91,"v":28},{"s":"b8","c":"r","t":94,"v":35},{"s":"b8","c":"r","t":97,"v":28},{"s":"b8","c":"r","t":100,"v":20},
{"s":"b9","c":"g","t":6,"v":0},{"s":"b9","c":"g","t":8,"v":15},{"s":"b9","c":"g","t":10,"v":35},{"s":"b9","c":"g","t":12,"v":25},{"s":"b9","c":"g","t":14,"v":30},{"s":"b9","c":"g","t":16,"v":22},{"s":"b9","c":"g","t":18,"v":15},{"s":"b9","c":"g","t":20,"v":25},{"s":"b9","c":"g","t":22,"v":20},{"s":"b9","c":"g","t":25,"v":30},{"s":"b9","c":"g","t":28,"v":45},{"s":"b9","c":"g","t":31,"v":38},{"s":"b9","c":"g","t":34,"v":30},{"s":"b9","c":"g","t":37,"v":22},{"s":"b9","c":"g","t":40,"v":18},{"s":"b9","c":"g","t":43,"v":25},{"s":"b9","c":"g","t":46,"v":32},{"s":"b9","c":"g","t":49,"v":40},{"s":"b9","c":"g","t":52,"v":48},{"s":"b9","c":"g","t":55,"v":42},{"s":"b9","c":"g","t":58,"v":35},{"s":"b9","c":"g","t":61,"v":28},{"s":"b9","c":"g","t":64,"v":20},{"s":"b9","c":"g","t":67,"v":15},{"s":"b9","c":"g","t":70,"v":22},{"s":"b9","c":"g","t":73,"v":30},{"s":"b9","c":"g","t":76,"v":38},{"s":"b9","c":"g","t":79,"v":32},{"s":"b9","c":"g","t":82,"v":25},{"s":"b9","c":"g","t":85,"v":30},{"s":"b9","c":"g","t":88,"v":38},{"s":"b9","c":"g","t":91,"v":32},{"s":"b9","c":"g","t":94,"v":40},{"s":"b9","c":"g","t":97,"v":35},{"s":"b9","c":"g","t":100,"v":30},
{"s":"b10","c":"r","t":3,"v":0},{"s":"b10","c":"r","t":4.5,"v":10},{"s":"b10","c":"r","t":6,"v":4},{"s":"b10","c":"r","t":8,"v":12},{"s":"b10","c":"r","t":10,"v":3},{"s":"b10","c":"r","t":12,"v":8},{"s":"b10","c":"r","t":14,"v":2},{"s":"b10","c":"r","t":16,"v":6},{"s":"b10","c":"r","t":18,"v":14},{"s":"b10","c":"r","t":20,"v":8},{"s":"b10","c":"r","t":23,"v":3},{"s":"b10","c":"r","t":26,"v":10},{"s":"b10","c":"r","t":29,"v":5},{"s":"b10","c":"r","t":32,"v":12},{"s":"b10","c":"r","t":35,"v":4},{"s":"b10","c":"r","t":38,"v":8},{"s":"b10","c":"r","t":41,"v":15},{"s":"b10","c":"r","t":44,"v":8},{"s":"b10","c":"r","t":47,"v":12},{"s":"b10","c":"r","t":50,"v":5},{"s":"b10","c":"r","t":53,"v":10},{"s":"b10","c":"r","t":56,"v":18},{"s":"b10","c":"r","t":59,"v":12},{"s":"b10","c":"r","t":62,"v":20},{"s":"b10","c":"r","t":65,"v":28},{"s":"b10","c":"r","t":68,"v":20},{"s":"b10","c":"r","t":71,"v":15},{"s":"b10","c":"r","t":74,"v":22},{"s":"b10","c":"r","t":77,"v":30},{"s":"b10","c":"r","t":80,"v":25},{"s":"b10","c":"r","t":83,"v":20},{"s":"b10","c":"r","t":86,"v":12},{"s":"b10","c":"r","t":89,"v":18},{"s":"b10","c":"r","t":92,"v":10},{"s":"b10","c":"r","t":95,"v":5},{"s":"b10","c":"r","t":98,"v":12},{"s":"b10","c":"r","t":100,"v":8},
{"s":"b11","c":"g","t":8,"v":0},{"s":"b11","c":"g","t":10,"v":10},{"s":"b11","c":"g","t":12,"v":20},{"s":"b11","c":"g","t":14,"v":32},{"s":"b11","c":"g","t":16,"v":45},{"s":"b11","c":"g","t":18,"v":38},{"s":"b11","c":"g","t":20,"v":50},{"s":"b11","c":"g","t":22,"v":44},{"s":"b11","c":"g","t":24,"v":55},{"s":"b11","c":"g","t":27,"v":65},{"s":"b11","c":"g","t":30,"v":58},{"s":"b11","c":"g","t":33,"v":50},{"s":"b11","c":"g","t":36,"v":42},{"s":"b11","c":"g","t":39,"v":35},{"s":"b11","c":"g","t":42,"v":40},{"s":"b11","c":"g","t":45,"v":48},{"s":"b11","c":"g","t":48,"v":55},{"s":"b11","c":"g","t":51,"v":50},{"s":"b11","c":"g","t":54,"v":42},{"s":"b11","c":"g","t":57,"v":48},{"s":"b11","c":"g","t":60,"v":40},{"s":"b11","c":"g","t":63,"v":32},{"s":"b11","c":"g","t":66,"v":25},{"s":"b11","c":"g","t":69,"v":18},{"s":"b11","c":"g","t":72,"v":25},{"s":"b11","c":"g","t":75,"v":32},{"s":"b11","c":"g","t":78,"v":40},{"s":"b11","c":"g","t":81,"v":35},{"s":"b11","c":"g","t":84,"v":28},{"s":"b11","c":"g","t":87,"v":20},{"s":"b11","c":"g","t":90,"v":15},{"s":"b11","c":"g","t":93,"v":20},{"s":"b11","c":"g","t":96,"v":12},{"s":"b11","c":"g","t":100,"v":15},
{"s":"b12","c":"r","t":10,"v":0},{"s":"b12","c":"r","t":12,"v":5},{"s":"b12","c":"r","t":14,"v":10},{"s":"b12","c":"r","t":16,"v":18},{"s":"b12","c":"r","t":18,"v":28},{"s":"b12","c":"r","t":20,"v":40},{"s":"b12","c":"r","t":22,"v":50},{"s":"b12","c":"r","t":24,"v":42},{"s":"b12","c":"r","t":26,"v":35},{"s":"b12","c":"r","t":28,"v":45},{"s":"b12","c":"r","t":30,"v":52},{"s":"b12","c":"r","t":33,"v":45},{"s":"b12","c":"r","t":36,"v":38},{"s":"b12","c":"r","t":39,"v":28},{"s":"b12","c":"r","t":42,"v":20},{"s":"b12","c":"r","t":45,"v":28},{"s":"b12","c":"r","t":48,"v":35},{"s":"b12","c":"r","t":51,"v":42},{"s":"b12","c":"r","t":54,"v":52},{"s":"b12","c":"r","t":57,"v":58},{"s":"b12","c":"r","t":60,"v":50},{"s":"b12","c":"r","t":63,"v":42},{"s":"b12","c":"r","t":66,"v":35},{"s":"b12","c":"r","t":69,"v":28},{"s":"b12","c":"r","t":72,"v":20},{"s":"b12","c":"r","t":75,"v":28},{"s":"b12","c":"r","t":78,"v":22},{"s":"b12","c":"r","t":81,"v":15},{"s":"b12","c":"r","t":84,"v":8},{"s":"b12","c":"r","t":87,"v":15},{"s":"b12","c":"r","t":90,"v":22},{"s":"b12","c":"r","t":93,"v":18},{"s":"b12","c":"r","t":96,"v":10},{"s":"b12","c":"r","t":100,"v":6},
{"s":"b13","c":"g","t":5,"v":0},{"s":"b13","c":"g","t":7,"v":8},{"s":"b13","c":"g","t":9,"v":15},{"s":"b13","c":"g","t":11,"v":10},{"s":"b13","c":"g","t":13,"v":18},{"s":"b13","c":"g","t":15,"v":28},{"s":"b13","c":"g","t":17,"v":38},{"s":"b13","c":"g","t":19,"v":48},{"s":"b13","c":"g","t":21,"v":42},{"s":"b13","c":"g","t":23,"v":35},{"s":"b13","c":"g","t":25,"v":40},{"s":"b13","c":"g","t":27,"v":32},{"s":"b13","c":"g","t":29,"v":25},{"s":"b13","c":"g","t":32,"v":18},{"s":"b13","c":"g","t":35,"v":25},{"s":"b13","c":"g","t":38,"v":20},{"s":"b13","c":"g","t":41,"v":12},{"s":"b13","c":"g","t":44,"v":18},{"s":"b13","c":"g","t":47,"v":25},{"s":"b13","c":"g","t":50,"v":32},{"s":"b13","c":"g","t":53,"v":40},{"s":"b13","c":"g","t":56,"v":35},{"s":"b13","c":"g","t":59,"v":28},{"s":"b13","c":"g","t":62,"v":35},{"s":"b13","c":"g","t":65,"v":45},{"s":"b13","c":"g","t":68,"v":55},{"s":"b13","c":"g","t":71,"v":62},{"s":"b13","c":"g","t":74,"v":68},{"s":"b13","c":"g","t":77,"v":60},{"s":"b13","c":"g","t":80,"v":52},{"s":"b13","c":"g","t":83,"v":58},{"s":"b13","c":"g","t":86,"v":65},{"s":"b13","c":"g","t":89,"v":60},{"s":"b13","c":"g","t":92,"v":68},{"s":"b13","c":"g","t":95,"v":62},{"s":"b13","c":"g","t":98,"v":58},{"s":"b13","c":"g","t":100,"v":60},
{"s":"b14","c":"g","t":12,"v":0},{"s":"b14","c":"g","t":14,"v":8},{"s":"b14","c":"g","t":16,"v":15},{"s":"b14","c":"g","t":18,"v":25},{"s":"b14","c":"g","t":20,"v":35},{"s":"b14","c":"g","t":22,"v":48},{"s":"b14","c":"g","t":24,"v":62},{"s":"b14","c":"g","t":26,"v":70},{"s":"b14","c":"g","t":28,"v":65},{"s":"b14","c":"g","t":30,"v":58},{"s":"b14","c":"g","t":32,"v":52},{"s":"b14","c":"g","t":34,"v":60},{"s":"b14","c":"g","t":36,"v":55},{"s":"b14","c":"g","t":38,"v":48},{"s":"b14","c":"g","t":41,"v":40},{"s":"b14","c":"g","t":44,"v":35},{"s":"b14","c":"g","t":47,"v":42},{"s":"b14","c":"g","t":50,"v":38},{"s":"b14","c":"g","t":53,"v":30},{"s":"b14","c":"g","t":56,"v":22},{"s":"b14","c":"g","t":59,"v":15},{"s":"b14","c":"g","t":62,"v":10},{"s":"b14","c":"g","t":65,"v":18},{"s":"b14","c":"g","t":68,"v":25},{"s":"b14","c":"g","t":71,"v":32},{"s":"b14","c":"g","t":74,"v":28},{"s":"b14","c":"g","t":77,"v":35},{"s":"b14","c":"g","t":80,"v":42},{"s":"b14","c":"g","t":83,"v":38},{"s":"b14","c":"g","t":86,"v":45},{"s":"b14","c":"g","t":89,"v":52},{"s":"b14","c":"g","t":92,"v":48},{"s":"b14","c":"g","t":95,"v":55},{"s":"b14","c":"g","t":98,"v":50},{"s":"b14","c":"g","t":100,"v":48},
{"s":"b15","c":"r","t":6,"v":0},{"s":"b15","c":"r","t":8,"v":8},{"s":"b15","c":"r","t":10,"v":15},{"s":"b15","c":"r","t":12,"v":10},{"s":"b15","c":"r","t":14,"v":4},{"s":"b15","c":"r","t":16,"v":12},{"s":"b15","c":"r","t":18,"v":20},{"s":"b15","c":"r","t":20,"v":14},{"s":"b15","c":"r","t":22,"v":6},{"s":"b15","c":"r","t":25,"v":15},{"s":"b15","c":"r","t":28,"v":25},{"s":"b15","c":"r","t":31,"v":32},{"s":"b15","c":"r","t":34,"v":25},{"s":"b15","c":"r","t":37,"v":18},{"s":"b15","c":"r","t":40,"v":10},{"s":"b15","c":"r","t":43,"v":18},{"s":"b15","c":"r","t":46,"v":25},{"s":"b15","c":"r","t":49,"v":18},{"s":"b15","c":"r","t":52,"v":10},{"s":"b15","c":"r","t":55,"v":5},{"s":"b15","c":"r","t":58,"v":12},{"s":"b15","c":"r","t":61,"v":25},{"s":"b15","c":"r","t":64,"v":35},{"s":"b15","c":"r","t":67,"v":42},{"s":"b15","c":"r","t":70,"v":48},{"s":"b15","c":"r","t":73,"v":40},{"s":"b15","c":"r","t":76,"v":32},{"s":"b15","c":"r","t":79,"v":25},{"s":"b15","c":"r","t":82,"v":30},{"s":"b15","c":"r","t":85,"v":38},{"s":"b15","c":"r","t":88,"v":32},{"s":"b15","c":"r","t":91,"v":25},{"s":"b15","c":"r","t":94,"v":30},{"s":"b15","c":"r","t":97,"v":22},{"s":"b15","c":"r","t":100,"v":18},
{"s":"b16","c":"g","t":7,"v":0},{"s":"b16","c":"g","t":9,"v":10},{"s":"b16","c":"g","t":11,"v":18},{"s":"b16","c":"g","t":13,"v":12},{"s":"b16","c":"g","t":15,"v":22},{"s":"b16","c":"g","t":17,"v":30},{"s":"b16","c":"g","t":19,"v":25},{"s":"b16","c":"g","t":21,"v":35},{"s":"b16","c":"g","t":23,"v":28},{"s":"b16","c":"g","t":26,"v":38},{"s":"b16","c":"g","t":29,"v":45},{"s":"b16","c":"g","t":32,"v":52},{"s":"b16","c":"g","t":35,"v":60},{"s":"b16","c":"g","t":38,"v":55},{"s":"b16","c":"g","t":41,"v":62},{"s":"b16","c":"g","t":44,"v":58},{"s":"b16","c":"g","t":47,"v":50},{"s":"b16","c":"g","t":50,"v":44},{"s":"b16","c":"g","t":53,"v":52},{"s":"b16","c":"g","t":56,"v":58},{"s":"b16","c":"g","t":59,"v":50},{"s":"b16","c":"g","t":62,"v":42},{"s":"b16","c":"g","t":65,"v":50},{"s":"b16","c":"g","t":68,"v":58},{"s":"b16","c":"g","t":71,"v":65},{"s":"b16","c":"g","t":74,"v":72},{"s":"b16","c":"g","t":77,"v":78},{"s":"b16","c":"g","t":80,"v":72},{"s":"b16","c":"g","t":83,"v":65},{"s":"b16","c":"g","t":86,"v":70},{"s":"b16","c":"g","t":89,"v":62},{"s":"b16","c":"g","t":92,"v":68},{"s":"b16","c":"g","t":95,"v":65},{"s":"b16","c":"g","t":98,"v":62},{"s":"b16","c":"g","t":100,"v":65},
{"s":"b17","c":"r","t":8,"v":0},{"s":"b17","c":"r","t":10,"v":4},{"s":"b17","c":"r","t":12,"v":10},{"s":"b17","c":"r","t":14,"v":6},{"s":"b17","c":"r","t":16,"v":14},{"s":"b17","c":"r","t":18,"v":8},{"s":"b17","c":"r","t":20,"v":18},{"s":"b17","c":"r","t":22,"v":25},{"s":"b17","c":"r","t":24,"v":32},{"s":"b17","c":"r","t":26,"v":28},{"s":"b17","c":"r","t":28,"v":36},{"s":"b17","c":"r","t":30,"v":30},{"s":"b17","c":"r","t":33,"v":22},{"s":"b17","c":"r","t":36,"v":30},{"s":"b17","c":"r","t":39,"v":38},{"s":"b17","c":"r","t":42,"v":45},{"s":"b17","c":"r","t":45,"v":50},{"s":"b17","c":"r","t":48,"v":55},{"s":"b17","c":"r","t":51,"v":48},{"s":"b17","c":"r","t":54,"v":40},{"s":"b17","c":"r","t":57,"v":32},{"s":"b17","c":"r","t":60,"v":25},{"s":"b17","c":"r","t":63,"v":18},{"s":"b17","c":"r","t":66,"v":12},{"s":"b17","c":"r","t":69,"v":5},{"s":"b17","c":"r","t":72,"v":10},{"s":"b17","c":"r","t":75,"v":3},{"s":"b17","c":"r","t":78,"v":8},{"s":"b17","c":"r","t":81,"v":12},{"s":"b17","c":"r","t":84,"v":20},{"s":"b17","c":"r","t":87,"v":28},{"s":"b17","c":"r","t":90,"v":35},{"s":"b17","c":"r","t":93,"v":28},{"s":"b17","c":"r","t":96,"v":35},{"s":"b17","c":"r","t":100,"v":30},
{"s":"b18","c":"g","t":10,"v":0},{"s":"b18","c":"g","t":13,"v":5},{"s":"b18","c":"g","t":16,"v":12},{"s":"b18","c":"g","t":19,"v":20},{"s":"b18","c":"g","t":22,"v":15},{"s":"b18","c":"g","t":25,"v":22},{"s":"b18","c":"g","t":28,"v":30},{"s":"b18","c":"g","t":31,"v":25},{"s":"b18","c":"g","t":34,"v":32},{"s":"b18","c":"g","t":37,"v":40},{"s":"b18","c":"g","t":40,"v":35},{"s":"b18","c":"g","t":43,"v":28},{"s":"b18","c":"g","t":46,"v":22},{"s":"b18","c":"g","t":49,"v":15},{"s":"b18","c":"g","t":52,"v":20},{"s":"b18","c":"g","t":55,"v":28},{"s":"b18","c":"g","t":58,"v":22},{"s":"b18","c":"g","t":61,"v":15},{"s":"b18","c":"g","t":64,"v":8},{"s":"b18","c":"g","t":67,"v":12},{"s":"b18","c":"g","t":70,"v":20},{"s":"b18","c":"g","t":73,"v":15},{"s":"b18","c":"g","t":76,"v":8},{"s":"b18","c":"g","t":79,"v":12},{"s":"b18","c":"g","t":82,"v":18},{"s":"b18","c":"g","t":85,"v":25},{"s":"b18","c":"g","t":88,"v":20},{"s":"b18","c":"g","t":91,"v":12},{"s":"b18","c":"g","t":94,"v":18},{"s":"b18","c":"g","t":97,"v":25},{"s":"b18","c":"g","t":100,"v":22},
{"s":"b19","c":"g","t":15,"v":0},{"s":"b19","c":"g","t":18,"v":10},{"s":"b19","c":"g","t":21,"v":22},{"s":"b19","c":"g","t":24,"v":35},{"s":"b19","c":"g","t":27,"v":28},{"s":"b19","c":"g","t":30,"v":40},{"s":"b19","c":"g","t":33,"v":48},{"s":"b19","c":"g","t":36,"v":55},{"s":"b19","c":"g","t":39,"v":62},{"s":"b19","c":"g","t":42,"v":55},{"s":"b19","c":"g","t":45,"v":48},{"s":"b19","c":"g","t":48,"v":55},{"s":"b19","c":"g","t":51,"v":62},{"s":"b19","c":"g","t":54,"v":70},{"s":"b19","c":"g","t":57,"v":65},{"s":"b19","c":"g","t":60,"v":58},{"s":"b19","c":"g","t":63,"v":50},{"s":"b19","c":"g","t":66,"v":45},{"s":"b19","c":"g","t":69,"v":52},{"s":"b19","c":"g","t":72,"v":60},{"s":"b19","c":"g","t":75,"v":68},{"s":"b19","c":"g","t":78,"v":75},{"s":"b19","c":"g","t":81,"v":70},{"s":"b19","c":"g","t":84,"v":62},{"s":"b19","c":"g","t":87,"v":55},{"s":"b19","c":"g","t":90,"v":60},{"s":"b19","c":"g","t":93,"v":68},{"s":"b19","c":"g","t":96,"v":72},{"s":"b19","c":"g","t":100,"v":68},
{"s":"b20","c":"r","t":14,"v":0},{"s":"b20","c":"r","t":16,"v":6},{"s":"b20","c":"r","t":18,"v":12},{"s":"b20","c":"r","t":20,"v":5},{"s":"b20","c":"r","t":22,"v":12},{"s":"b20","c":"r","t":24,"v":20},{"s":"b20","c":"r","t":26,"v":15},{"s":"b20","c":"r","t":28,"v":8},{"s":"b20","c":"r","t":31,"v":14},{"s":"b20","c":"r","t":34,"v":22},{"s":"b20","c":"r","t":37,"v":30},{"s":"b20","c":"r","t":40,"v":25},{"s":"b20","c":"r","t":43,"v":18},{"s":"b20","c":"r","t":46,"v":12},{"s":"b20","c":"r","t":49,"v":20},{"s":"b20","c":"r","t":52,"v":28},{"s":"b20","c":"r","t":55,"v":35},{"s":"b20","c":"r","t":58,"v":42},{"s":"b20","c":"r","t":61,"v":50},{"s":"b20","c":"r","t":64,"v":58},{"s":"b20","c":"r","t":67,"v":52},{"s":"b20","c":"r","t":70,"v":45},{"s":"b20","c":"r","t":73,"v":38},{"s":"b20","c":"r","t":76,"v":30},{"s":"b20","c":"r","t":79,"v":22},{"s":"b20","c":"r","t":82,"v":15},{"s":"b20","c":"r","t":85,"v":22},{"s":"b20","c":"r","t":88,"v":30},{"s":"b20","c":"r","t":91,"v":38},{"s":"b20","c":"r","t":94,"v":45},{"s":"b20","c":"r","t":97,"v":40},{"s":"b20","c":"r","t":100,"v":35},
{"s":"b21","c":"g","t":20,"v":0},{"s":"b21","c":"g","t":23,"v":10},{"s":"b21","c":"g","t":26,"v":20},{"s":"b21","c":"g","t":29,"v":32},{"s":"b21","c":"g","t":32,"v":45},{"s":"b21","c":"g","t":35,"v":58},{"s":"b21","c":"g","t":38,"v":68},{"s":"b21","c":"g","t":41,"v":62},{"s":"b21","c":"g","t":44,"v":55},{"s":"b21","c":"g","t":47,"v":48},{"s":"b21","c":"g","t":50,"v":42},{"s":"b21","c":"g","t":53,"v":35},{"s":"b21","c":"g","t":56,"v":28},{"s":"b21","c":"g","t":59,"v":22},{"s":"b21","c":"g","t":62,"v":30},{"s":"b21","c":"g","t":65,"v":38},{"s":"b21","c":"g","t":68,"v":45},{"s":"b21","c":"g","t":71,"v":52},{"s":"b21","c":"g","t":74,"v":58},{"s":"b21","c":"g","t":77,"v":65},{"s":"b21","c":"g","t":80,"v":60},{"s":"b21","c":"g","t":83,"v":55},{"s":"b21","c":"g","t":86,"v":48},{"s":"b21","c":"g","t":89,"v":55},{"s":"b21","c":"g","t":92,"v":62},{"s":"b21","c":"g","t":95,"v":58},{"s":"b21","c":"g","t":98,"v":64},{"s":"b21","c":"g","t":100,"v":62},
{"s":"b22","c":"r","t":18,"v":0},{"s":"b22","c":"r","t":21,"v":8},{"s":"b22","c":"r","t":24,"v":15},{"s":"b22","c":"r","t":27,"v":10},{"s":"b22","c":"r","t":30,"v":18},{"s":"b22","c":"r","t":33,"v":12},{"s":"b22","c":"r","t":36,"v":5},{"s":"b22","c":"r","t":39,"v":12},{"s":"b22","c":"r","t":42,"v":20},{"s":"b22","c":"r","t":45,"v":15},{"s":"b22","c":"r","t":48,"v":8},{"s":"b22","c":"r","t":51,"v":3},{"s":"b22","c":"r","t":54,"v":10},{"s":"b22","c":"r","t":57,"v":18},{"s":"b22","c":"r","t":60,"v":25},{"s":"b22","c":"r","t":63,"v":20},{"s":"b22","c":"r","t":66,"v":12},{"s":"b22","c":"r","t":69,"v":5},{"s":"b22","c":"r","t":72,"v":2},{"s":"b22","c":"r","t":75,"v":8},{"s":"b22","c":"r","t":78,"v":15},{"s":"b22","c":"r","t":81,"v":10},{"s":"b22","c":"r","t":84,"v":5},{"s":"b22","c":"r","t":87,"v":12},{"s":"b22","c":"r","t":90,"v":20},{"s":"b22","c":"r","t":93,"v":15},{"s":"b22","c":"r","t":96,"v":8},{"s":"b22","c":"r","t":100,"v":2},
{"s":"b23","c":"g","t":3,"v":0},{"s":"b23","c":"g","t":5,"v":5},{"s":"b23","c":"g","t":7,"v":18},{"s":"b23","c":"g","t":9,"v":12},{"s":"b23","c":"g","t":11,"v":28},{"s":"b23","c":"g","t":13,"v":35},{"s":"b23","c":"g","t":15,"v":22},{"s":"b23","c":"g","t":17,"v":30},{"s":"b23","c":"g","t":19,"v":18},{"s":"b23","c":"g","t":21,"v":12},{"s":"b23","c":"g","t":24,"v":8},{"s":"b23","c":"g","t":27,"v":15},{"s":"b23","c":"g","t":30,"v":22},{"s":"b23","c":"g","t":33,"v":15},{"s":"b23","c":"g","t":36,"v":8},{"s":"b23","c":"g","t":39,"v":15},{"s":"b23","c":"g","t":42,"v":10},{"s":"b23","c":"g","t":45,"v":5},{"s":"b23","c":"g","t":48,"v":12},{"s":"b23","c":"g","t":51,"v":18},{"s":"b23","c":"g","t":54,"v":12},{"s":"b23","c":"g","t":57,"v":20},{"s":"b23","c":"g","t":60,"v":28},{"s":"b23","c":"g","t":63,"v":22},{"s":"b23","c":"g","t":66,"v":30},{"s":"b23","c":"g","t":69,"v":25},{"s":"b23","c":"g","t":72,"v":18},{"s":"b23","c":"g","t":75,"v":12},{"s":"b23","c":"g","t":78,"v":5},{"s":"b23","c":"g","t":81,"v":10},{"s":"b23","c":"g","t":84,"v":15},{"s":"b23","c":"g","t":87,"v":8},{"s":"b23","c":"g","t":90,"v":5},{"s":"b23","c":"g","t":93,"v":10},{"s":"b23","c":"g","t":96,"v":4},{"s":"b23","c":"g","t":100,"v":8},
{"s":"b24","c":"r","t":4,"v":0},{"s":"b24","c":"r","t":6,"v":12},{"s":"b24","c":"r","t":8,"v":25},{"s":"b24","c":"r","t":10,"v":18},{"s":"b24","c":"r","t":12,"v":28},{"s":"b24","c":"r","t":14,"v":20},{"s":"b24","c":"r","t":16,"v":12},{"s":"b24","c":"r","t":18,"v":5},{"s":"b24","c":"r","t":20,"v":10},{"s":"b24","c":"r","t":23,"v":18},{"s":"b24","c":"r","t":26,"v":28},{"s":"b24","c":"r","t":29,"v":38},{"s":"b24","c":"r","t":32,"v":30},{"s":"b24","c":"r","t":35,"v":22},{"s":"b24","c":"r","t":38,"v":15},{"s":"b24","c":"r","t":41,"v":22},{"s":"b24","c":"r","t":44,"v":30},{"s":"b24","c":"r","t":47,"v":38},{"s":"b24","c":"r","t":50,"v":32},{"s":"b24","c":"r","t":53,"v":25},{"s":"b24","c":"r","t":56,"v":18},{"s":"b24","c":"r","t":59,"v":10},{"s":"b24","c":"r","t":62,"v":15},{"s":"b24","c":"r","t":65,"v":22},{"s":"b24","c":"r","t":68,"v":18},{"s":"b24","c":"r","t":71,"v":10},{"s":"b24","c":"r","t":74,"v":15},{"s":"b24","c":"r","t":77,"v":22},{"s":"b24","c":"r","t":80,"v":28},{"s":"b24","c":"r","t":83,"v":22},{"s":"b24","c":"r","t":86,"v":15},{"s":"b24","c":"r","t":89,"v":8},{"s":"b24","c":"r","t":92,"v":14},{"s":"b24","c":"r","t":95,"v":20},{"s":"b24","c":"r","t":98,"v":15},{"s":"b24","c":"r","t":100,"v":12},
{"s":"b25","c":"r","t":3,"v":0},{"s":"b25","c":"r","t":5,"v":6},{"s":"b25","c":"r","t":7,"v":14},{"s":"b25","c":"r","t":9,"v":22},{"s":"b25","c":"r","t":11,"v":15},{"s":"b25","c":"r","t":13,"v":26},{"s":"b25","c":"r","t":15,"v":18},{"s":"b25","c":"r","t":17,"v":10},{"s":"b25","c":"r","t":19,"v":20},{"s":"b25","c":"r","t":22,"v":28},{"s":"b25","c":"r","t":25,"v":20},{"s":"b25","c":"r","t":28,"v":12},{"s":"b25","c":"r","t":31,"v":20},{"s":"b25","c":"r","t":34,"v":28},{"s":"b25","c":"r","t":37,"v":35},{"s":"b25","c":"r","t":40,"v":28},{"s":"b25","c":"r","t":43,"v":20},{"s":"b25","c":"r","t":46,"v":25},{"s":"b25","c":"r","t":49,"v":32},{"s":"b25","c":"r","t":52,"v":40},{"s":"b25","c":"r","t":55,"v":45},{"s":"b25","c":"r","t":58,"v":38},{"s":"b25","c":"r","t":61,"v":30},{"s":"b25","c":"r","t":64,"v":24},{"s":"b25","c":"r","t":67,"v":30},{"s":"b25","c":"r","t":70,"v":38},{"s":"b25","c":"r","t":73,"v":32},{"s":"b25","c":"r","t":76,"v":25},{"s":"b25","c":"r","t":79,"v":30},{"s":"b25","c":"r","t":82,"v":36},{"s":"b25","c":"r","t":85,"v":30},{"s":"b25","c":"r","t":88,"v":24},{"s":"b25","c":"r","t":91,"v":30},{"s":"b25","c":"r","t":94,"v":25},{"s":"b25","c":"r","t":97,"v":18},{"s":"b25","c":"r","t":100,"v":22},
{"s":"b26","c":"g","t":4,"v":0},{"s":"b26","c":"g","t":6,"v":10},{"s":"b26","c":"g","t":8,"v":20},{"s":"b26","c":"g","t":10,"v":14},{"s":"b26","c":"g","t":12,"v":24},{"s":"b26","c":"g","t":14,"v":16},{"s":"b26","c":"g","t":16,"v":25},{"s":"b26","c":"g","t":18,"v":32},{"s":"b26","c":"g","t":20,"v":24},{"s":"b26","c":"g","t":23,"v":30},{"s":"b26","c":"g","t":26,"v":42},{"s":"b26","c":"g","t":29,"v":50},{"s":"b26","c":"g","t":32,"v":44},{"s":"b26","c":"g","t":35,"v":38},{"s":"b26","c":"g","t":38,"v":44},{"s":"b26","c":"g","t":41,"v":52},{"s":"b26","c":"g","t":44,"v":46},{"s":"b26","c":"g","t":47,"v":40},{"s":"b26","c":"g","t":50,"v":35},{"s":"b26","c":"g","t":53,"v":42},{"s":"b26","c":"g","t":56,"v":30},{"s":"b26","c":"g","t":59,"v":22},{"s":"b26","c":"g","t":62,"v":28},{"s":"b26","c":"g","t":65,"v":20},{"s":"b26","c":"g","t":68,"v":26},{"s":"b26","c":"g","t":71,"v":18},{"s":"b26","c":"g","t":74,"v":24},{"s":"b26","c":"g","t":77,"v":30},{"s":"b26","c":"g","t":80,"v":22},{"s":"b26","c":"g","t":83,"v":16},{"s":"b26","c":"g","t":86,"v":22},{"s":"b26","c":"g","t":89,"v":30},{"s":"b26","c":"g","t":92,"v":26},{"s":"b26","c":"g","t":95,"v":34},{"s":"b26","c":"g","t":98,"v":28},{"s":"b26","c":"g","t":100,"v":30},
{"s":"b27","c":"r","t":5,"v":0},{"s":"b27","c":"r","t":6,"v":15},{"s":"b27","c":"r","t":7,"v":5},{"s":"b27","c":"r","t":9,"v":18},{"s":"b27","c":"r","t":11,"v":8},{"s":"b27","c":"r","t":13,"v":15},{"s":"b27","c":"r","t":15,"v":25},{"s":"b27","c":"r","t":17,"v":18},{"s":"b27","c":"r","t":19,"v":30},{"s":"b27","c":"r","t":21,"v":22},{"s":"b27","c":"r","t":24,"v":15},{"s":"b27","c":"r","t":27,"v":25},{"s":"b27","c":"r","t":30,"v":35},{"s":"b27","c":"r","t":33,"v":42},{"s":"b27","c":"r","t":36,"v":50},{"s":"b27","c":"r","t":39,"v":42},{"s":"b27","c":"r","t":42,"v":35},{"s":"b27","c":"r","t":45,"v":40},{"s":"b27","c":"r","t":48,"v":48},{"s":"b27","c":"r","t":51,"v":38},{"s":"b27","c":"r","t":54,"v":30},{"s":"b27","c":"r","t":57,"v":22},{"s":"b27","c":"r","t":60,"v":15},{"s":"b27","c":"r","t":63,"v":22},{"s":"b27","c":"r","t":66,"v":30},{"s":"b27","c":"r","t":69,"v":25},{"s":"b27","c":"r","t":72,"v":35},{"s":"b27","c":"r","t":75,"v":42},{"s":"b27","c":"r","t":78,"v":35},{"s":"b27","c":"r","t":81,"v":28},{"s":"b27","c":"r","t":84,"v":35},{"s":"b27","c":"r","t":87,"v":40},{"s":"b27","c":"r","t":90,"v":32},{"s":"b27","c":"r","t":93,"v":25},{"s":"b27","c":"r","t":96,"v":30},{"s":"b27","c":"r","t":100,"v":25},
{"s":"b28","c":"g","t":25,"v":0},{"s":"b28","c":"g","t":28,"v":10},{"s":"b28","c":"g","t":31,"v":18},{"s":"b28","c":"g","t":34,"v":28},{"s":"b28","c":"g","t":37,"v":22},{"s":"b28","c":"g","t":40,"v":30},{"s":"b28","c":"g","t":43,"v":38},{"s":"b28","c":"g","t":46,"v":30},{"s":"b28","c":"g","t":49,"v":24},{"s":"b28","c":"g","t":52,"v":32},{"s":"b28","c":"g","t":55,"v":40},{"s":"b28","c":"g","t":58,"v":48},{"s":"b28","c":"g","t":61,"v":55},{"s":"b28","c":"g","t":64,"v":48},{"s":"b28","c":"g","t":67,"v":40},{"s":"b28","c":"g","t":70,"v":48},{"s":"b28","c":"g","t":73,"v":55},{"s":"b28","c":"g","t":76,"v":48},{"s":"b28","c":"g","t":79,"v":42},{"s":"b28","c":"g","t":82,"v":35},{"s":"b28","c":"g","t":85,"v":42},{"s":"b28","c":"g","t":88,"v":50},{"s":"b28","c":"g","t":91,"v":45},{"s":"b28","c":"g","t":94,"v":38},{"s":"b28","c":"g","t":97,"v":30},{"s":"b28","c":"g","t":100,"v":35},
{"s":"b29","c":"r","t":7,"v":0},{"s":"b29","c":"r","t":9,"v":6},{"s":"b29","c":"r","t":11,"v":15},{"s":"b29","c":"r","t":13,"v":8},{"s":"b29","c":"r","t":15,"v":20},{"s":"b29","c":"r","t":17,"v":28},{"s":"b29","c":"r","t":19,"v":15},{"s":"b29","c":"r","t":21,"v":8},{"s":"b29","c":"r","t":23,"v":14},{"s":"b29","c":"r","t":26,"v":8},{"s":"b29","c":"r","t":29,"v":15},{"s":"b29","c":"r","t":32,"v":8},{"s":"b29","c":"r","t":35,"v":14},{"s":"b29","c":"r","t":38,"v":22},{"s":"b29","c":"r","t":41,"v":30},{"s":"b29","c":"r","t":44,"v":22},{"s":"b29","c":"r","t":47,"v":15},{"s":"b29","c":"r","t":50,"v":8},{"s":"b29","c":"r","t":53,"v":15},{"s":"b29","c":"r","t":56,"v":22},{"s":"b29","c":"r","t":59,"v":30},{"s":"b29","c":"r","t":62,"v":35},{"s":"b29","c":"r","t":65,"v":28},{"s":"b29","c":"r","t":68,"v":35},{"s":"b29","c":"r","t":71,"v":28},{"s":"b29","c":"r","t":74,"v":20},{"s":"b29","c":"r","t":77,"v":28},{"s":"b29","c":"r","t":80,"v":35},{"s":"b29","c":"r","t":83,"v":28},{"s":"b29","c":"r","t":86,"v":35},{"s":"b29","c":"r","t":89,"v":42},{"s":"b29","c":"r","t":92,"v":35},{"s":"b29","c":"r","t":95,"v":40},{"s":"b29","c":"r","t":98,"v":32},{"s":"b29","c":"r","t":100,"v":28},
{"s":"b30","c":"g","t":30,"v":0},{"s":"b30","c":"g","t":34,"v":8},{"s":"b30","c":"g","t":38,"v":15},{"s":"b30","c":"g","t":42,"v":10},{"s":"b30","c":"g","t":46,"v":18},{"s":"b30","c":"g","t":50,"v":25},{"s":"b30","c":"g","t":54,"v":18},{"s":"b30","c":"g","t":58,"v":12},{"s":"b30","c":"g","t":62,"v":18},{"s":"b30","c":"g","t":66,"v":25},{"s":"b30","c":"g","t":70,"v":18},{"s":"b30","c":"g","t":74,"v":12},{"s":"b30","c":"g","t":78,"v":20},{"s":"b30","c":"g","t":82,"v":28},{"s":"b30","c":"g","t":86,"v":35},{"s":"b30","c":"g","t":90,"v":28},{"s":"b30","c":"g","t":94,"v":20},{"s":"b30","c":"g","t":98,"v":15},{"s":"b30","c":"g","t":100,"v":18}
]},
"data":{"name":"d"},
"mark":{"type":"line","clip":true,"strokeWidth":1,"opacity":0.8},
"encoding":{
"x":{"field":"t","type":"quantitative","scale":{"domain":[0,100],"nice":false},
"axis":{"title":"Time (hours)","values":[0,20,40,60,80,100],"grid":false,"labelFlush":false,"domainColor":"black","tickColor":"black","tickSize":7,"labelFontSize":19,"labelColor":"#222","labelPadding":6,"titleFontSize":19,"titleFontWeight":"normal","titleColor":"#222","titlePadding":8,"labelFont":"DejaVu Sans","titleFont":"DejaVu Sans"}},
"y":{"field":"v","type":"quantitative","scale":{"domain":[0,200],"nice":false},
"axis":{"title":"Relative pulse pressure (%)","values":[0,25,50,75,100,125,150,175,200],"grid":false,"labelFlush":false,"domainColor":"black","tickColor":"black","tickSize":7,"labelFontSize":19,"labelColor":"#222","labelPadding":8,"titleFontSize":19,"titleFontWeight":"normal","titleColor":"#222","titlePadding":9,"labelFont":"DejaVu Sans","titleFont":"DejaVu Sans"}},
"color":{"field":"c","type":"nominal","scale":{"domain":["g","r"],"range":["#008000","#ff0000"]},"legend":null},
"detail":{"field":"s","type":"nominal"}
}
}
